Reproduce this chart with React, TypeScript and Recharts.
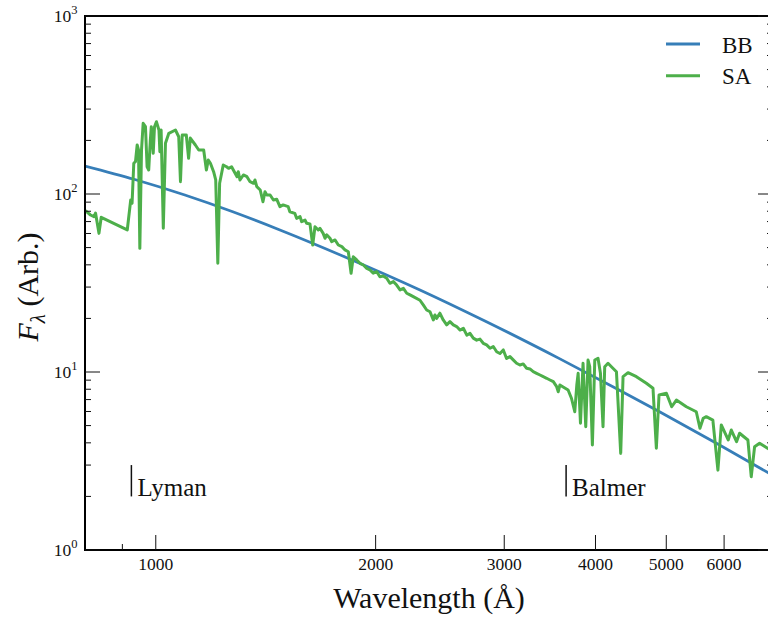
import React from 'react';
import { LineChart, Line, XAxis, YAxis, Legend, ReferenceLine, ReferenceDot } from 'recharts';

const FONT = '"Liberation Serif", "DejaVu Serif", serif';
const BB_COLOR = '#377eb8';
const SA_COLOR = '#4daf4a';

// Wavelength axis (Å)
const waveDomain = [800, 7000];
const waveLabelTicks = [1000, 2000, 3000, 4000, 5000, 6000];
const waveMinorTicks = [900];

// Flux axis (arbitrary units)
const fluxDomain = [1, 1000];
const fluxDecades = [1, 10, 100, 1000];
const fluxSubSteps = [2, 3, 4, 5, 6, 7, 8, 9];

// Blackbody curve: [wavelength, flux]
const bbPoints: [number, number][] = [
  [800, 143.6], [936, 120.6], [1096, 98.7], [1272, 79.7], [1479, 62.8],
  [1816, 44.3], [2300, 28.9], [2823, 19.34], [3576, 11.85], [4321, 7.88],
  [4902, 5.96], [5923, 3.875], [6890, 2.72], [7000, 2.62],
];

// Stellar atmosphere spectrum, far UV (Lyman side)
const saFarUV: [number, number][] = [
  [801, 80.6], [814, 76.2], [823, 74.6], [827, 78.2], [836, 60.1], [842, 74.0], [914, 62.8], [924, 92.5], [928, 88.7], [933, 148.8],
  [938, 151.9], [943, 188.5], [947, 176.7], [951, 49.5], [956, 176.7], [961, 249.6], [968, 238.9], [973, 142.3], [978, 136.4], [983, 201.1],
  [986, 238.9], [992, 169.3], [996, 238.9], [1002, 254.8], [1010, 228.8], [1013, 172.9], [1017, 228.8], [1024, 64.2], [1031, 192.7], [1042, 219.3],
  [1064, 228.8], [1075, 209.8], [1081, 117.3], [1087, 214.5], [1101, 214.5], [1109, 158.7], [1115, 206.3], [1133, 188.5], [1145, 176.7], [1163, 176.7],
  [1173, 136.4], [1180, 155.2], [1188, 148.8], [1200, 133.5], [1208, 119.9], [1216, 40.8], [1223, 114.9],
];

// Mid UV
const saMidUV: [number, number][] = [
  [1237, 145.6], [1250, 142.3], [1258, 139.4], [1270, 142.3], [1277, 136.4], [1292, 125.1], [1297, 133.5], [1304, 119.9], [1318, 127.9], [1333, 125.1],
  [1346, 117.3], [1361, 114.9], [1367, 119.9], [1375, 109.9], [1390, 105.3], [1402, 90.5], [1411, 103.0], [1419, 98.7], [1434, 98.7], [1449, 92.5],
  [1464, 93.5], [1479, 84.9], [1494, 86.8], [1518, 84.9], [1526, 79.5], [1550, 77.9], [1559, 73.0], [1576, 74.6], [1584, 69.9], [1601, 71.4],
  [1609, 68.5], [1626, 67.9], [1640, 51.7], [1652, 65.5], [1669, 62.8], [1678, 64.2], [1695, 60.1], [1705, 56.4], [1714, 58.9], [1732, 56.4],
  [1741, 54.0], [1760, 55.2], [1778, 51.7], [1798, 50.6], [1816, 48.5], [1835, 47.4], [1851, 35.9], [1864, 44.4], [1884, 42.6], [1904, 40.8],
  [1924, 39.9], [1945, 38.2], [1965, 37.4], [1985, 35.9], [2007, 36.6], [2027, 34.3], [2048, 34.6], [2071, 33.6], [2092, 31.5], [2115, 32.2],
  [2137, 30.8], [2160, 28.9], [2183, 29.5], [2206, 27.7], [2229, 27.1], [2252, 26.5],
];

// Near UV up to the Balmer jump
const saNearUV: [number, number][] = [
  [2300, 25.3], [2324, 23.8], [2349, 22.3], [2374, 21.8], [2399, 19.6], [2411, 20.9], [2424, 20.0], [2449, 21.4], [2475, 19.6], [2502, 18.4],
  [2528, 19.2], [2555, 18.4], [2582, 18.0], [2609, 17.2], [2637, 17.6], [2666, 16.1], [2693, 16.5], [2721, 15.5], [2750, 15.1], [2779, 15.3],
  [2808, 14.5], [2838, 14.2], [2868, 13.6], [2898, 13.9], [2929, 13.0], [2960, 12.7], [2991, 13.3], [3022, 11.9], [3055, 12.2], [3086, 11.7],
  [3119, 11.2], [3152, 10.95], [3185, 11.1], [3219, 10.5], [3253, 10.4], [3287, 10.04], [3322, 9.83], [3358, 9.62], [3393, 9.41], [3429, 9.22],
  [3465, 9.02], [3502, 8.82], [3539, 8.27], [3557, 7.75],
];

// Optical, with the Balmer series lines
const saOptical: [number, number][] = [
  [3575, 8.45], [3669, 7.92], [3708, 7.12], [3747, 5.98], [3771, 8.45], [3787, 9.83], [3815, 5.15], [3846, 11.19], [3879, 4.93], [3907, 11.68],
  [3928, 10.71], [3961, 3.89], [3991, 11.68], [4032, 11.94], [4063, 9.83], [4096, 4.93], [4118, 10.71], [4161, 11.19], [4206, 10.71], [4273, 10.04],
  [4331, 3.49], [4363, 9.41], [4432, 9.91], [4551, 9.41], [4696, 8.64], [4795, 8.10], [4846, 3.73], [4887, 7.43], [5002, 7.59], [5086, 6.38],
  [5162, 6.96], [5327, 6.38], [5496, 5.98], [5560, 4.83], [5618, 5.50], [5672, 5.61], [5791, 5.37], [5884, 2.81], [5947, 5.04], [6078, 4.15],
  [6138, 4.72], [6240, 4.06], [6300, 4.53], [6467, 4.15], [6536, 2.58], [6605, 3.80], [6710, 3.98], [6881, 3.73], [7000, 3.6],
];

// Series limits marked on the plot
const edgeNames = ['Lyman', 'Balmer'];
const edgeWaves = [926, 3646];
const edgeMarkLow = 2;
const edgeMarkHigh = 3;

const waveTicks = [...waveMinorTicks, ...waveLabelTicks];
const fluxTicks = fluxDecades.flatMap((d, i) =>
  i < fluxDecades.length - 1 ? [d, ...fluxSubSteps.map((s) => s * d)] : [d]
);
const toRows = (pts: [number, number][]) => pts.map(([wave, flux]) => ({ wave, flux }));
const bbData = toRows(bbPoints);
const saData = toRows([...saFarUV, ...saMidUV, ...saNearUV, ...saOptical]);

const MAJOR_LEN = 15;
const MINOR_LEN = 6;
const TICK_COLOR = '#111';

const isWaveMajor = (v: number) => waveLabelTicks.includes(v);
const isFluxMajor = (v: number) => fluxDecades.includes(v);

function BottomTick(props: any) {
  const { x, y, payload } = props;
  const v = payload.value;
  const major = isWaveMajor(v);
  return (
    <g>
      <line x1={x} x2={x} y1={y} y2={y - (major ? MAJOR_LEN : MINOR_LEN)} stroke={TICK_COLOR} strokeWidth={1} />
      {major && (
        <text x={x} y={y + 19.5} textAnchor="middle" fontSize={17.5} fontFamily={FONT} fill="#111">
          {v}
        </text>
      )}
    </g>
  );
}

function TopTick(props: any) {
  const { x, y, payload } = props;
  const major = isWaveMajor(payload.value);
  return <line x1={x} x2={x} y1={y} y2={y + (major ? MAJOR_LEN : MINOR_LEN)} stroke={TICK_COLOR} strokeWidth={1} />;
}

function LeftTick(props: any) {
  const { x, y, payload } = props;
  const v = payload.value;
  const major = isFluxMajor(v);
  const exp = Math.round(Math.log10(v));
  return (
    <g>
      <line x1={x} x2={x + (major ? MAJOR_LEN : MINOR_LEN)} y1={y} y2={y} stroke={TICK_COLOR} strokeWidth={1} />
      {major && (
        <text x={x - 7.5} y={y + 5.5} textAnchor="end" fontSize={17.5} fontFamily={FONT} fill="#111">
          <tspan>10</tspan>
          <tspan dy={-8} fontSize={12.5}>{exp}</tspan>
        </text>
      )}
    </g>
  );
}

function RightTick(props: any) {
  const { x, y, payload } = props;
  const major = isFluxMajor(payload.value);
  return <line x1={x} x2={x - (major ? MAJOR_LEN : MINOR_LEN)} y1={y} y2={y} stroke={TICK_COLOR} strokeWidth={1} />;
}

function WaveTitle(props: any) {
  const vb = props.viewBox;
  return (
    <text x={vb.x + vb.width / 2} y={vb.y + 58} textAnchor="middle" fontSize={30} fontFamily={FONT} fill="#111">
      Wavelength (Å)
    </text>
  );
}

function FluxTitle(props: any) {
  const vb = props.viewBox;
  const cx = vb.x + 38;
  const cy = vb.y + vb.height / 2 + 4;
  return (
    <text
      x={cx}
      y={cy}
      transform={`rotate(-90 ${cx} ${cy})`}
      textAnchor="middle"
      fontSize={30}
      fontFamily={FONT}
      fill="#111"
    >
      <tspan fontStyle="italic">F</tspan>
      <tspan fontStyle="italic" fontSize={21} dy={7}>λ</tspan>
      <tspan dy={-7}> (Arb.)</tspan>
    </text>
  );
}

function LegendBox(props: any) {
  const items = props.payload || [];
  return (
    <svg width={110} height={70} style={{ display: 'block' }}>
      {items.map((it: any, i: number) => {
        const ly = 14 + i * 31.7;
        return (
          <g key={it.value}>
            <line x1={6} x2={40} y1={ly} y2={ly} stroke={it.color} strokeWidth={3} />
            <text x={62} y={ly + 8.7} fontSize={23} fontFamily={FONT} fill="#111">
              {it.value}
            </text>
          </g>
        );
      })}
    </svg>
  );
}

const axisLineStyle = { stroke: '#000', strokeWidth: 2, strokeLinecap: 'square' as const };

export default function App() {
  return (
    <div style={{ position: 'absolute', left: 0, top: 0, width: 768, height: 620, overflow: 'hidden', background: '#fff' }}>
      <LineChart width={780} height={620} margin={{ top: 0, right: 0, bottom: 0, left: 0 }}>
        <XAxis
          xAxisId="bottom"
          dataKey="wave"
          type="number"
          scale="log"
          domain={waveDomain}
          allowDataOverflow
          ticks={waveTicks}
          interval={0}
          tickSize={0}
          tickMargin={0}
          tickLine={false}
          axisLine={axisLineStyle}
          height={70}
          tick={BottomTick}
          label={<WaveTitle />}
        />
        <XAxis
          xAxisId="top"
          orientation="top"
          type="number"
          scale="log"
          domain={waveDomain}
          allowDataOverflow
          ticks={waveTicks}
          interval={0}
          tickSize={0}
          tickMargin={0}
          tickLine={false}
          axisLine={axisLineStyle}
          height={16}
          tick={TopTick}
        />
        <YAxis
          yAxisId="left"
          type="number"
          scale="log"
          domain={fluxDomain}
          allowDataOverflow
          ticks={fluxTicks}
          interval={0}
          tickSize={0}
          tickMargin={0}
          tickLine={false}
          axisLine={axisLineStyle}
          width={85}
          tick={LeftTick}
          label={<FluxTitle />}
        />
        <YAxis
          yAxisId="right"
          orientation="right"
          type="number"
          scale="log"
          domain={fluxDomain}
          allowDataOverflow
          ticks={fluxTicks}
          interval={0}
          tickSize={0}
          tickMargin={0}
          tickLine={false}
          axisLine={axisLineStyle}
          width={7}
          tick={RightTick}
        />
        <Legend
          layout="horizontal"
          verticalAlign="middle"
          align="center"
          content={<LegendBox />}
          wrapperStyle={{ left: 660, top: 30, width: 110, height: 70 }}
        />
        <Line
          xAxisId="bottom"
          yAxisId="left"
          data={bbData}
          dataKey="flux"
          name="BB"
          type="monotone"
          stroke={BB_COLOR}
          strokeWidth={2.8}
          dot={false}
          activeDot={false}
          isAnimationActive={false}
        />
        <Line
          xAxisId="bottom"
          yAxisId="left"
          data={saData}
          dataKey="flux"
          name="SA"
          type="linear"
          stroke={SA_COLOR}
          strokeWidth={3}
          strokeLinejoin="round"
          dot={false}
          activeDot={false}
          isAnimationActive={false}
        />
        {edgeWaves.map((w, i) => (
          <ReferenceLine
            key={`bar-${edgeNames[i]}`}
            xAxisId="bottom"
            yAxisId="left"
            segment={[{ x: w, y: edgeMarkLow }, { x: w, y: edgeMarkHigh }]}
            stroke="#111"
            strokeWidth={1.5}
          />
        ))}
        {edgeWaves.map((w, i) => (
          <ReferenceDot
            key={`name-${edgeNames[i]}`}
            xAxisId="bottom"
            yAxisId="left"
            x={w}
            y={edgeMarkLow}
            r={0}
            shape={(p: any) => (
              <text x={p.cx + 6} y={p.cy} fontSize={25} fontFamily={FONT} fill="#111">
                {edgeNames[i]}
              </text>
            )}
          />
        ))}
      </LineChart>
    </div>
  );
}
